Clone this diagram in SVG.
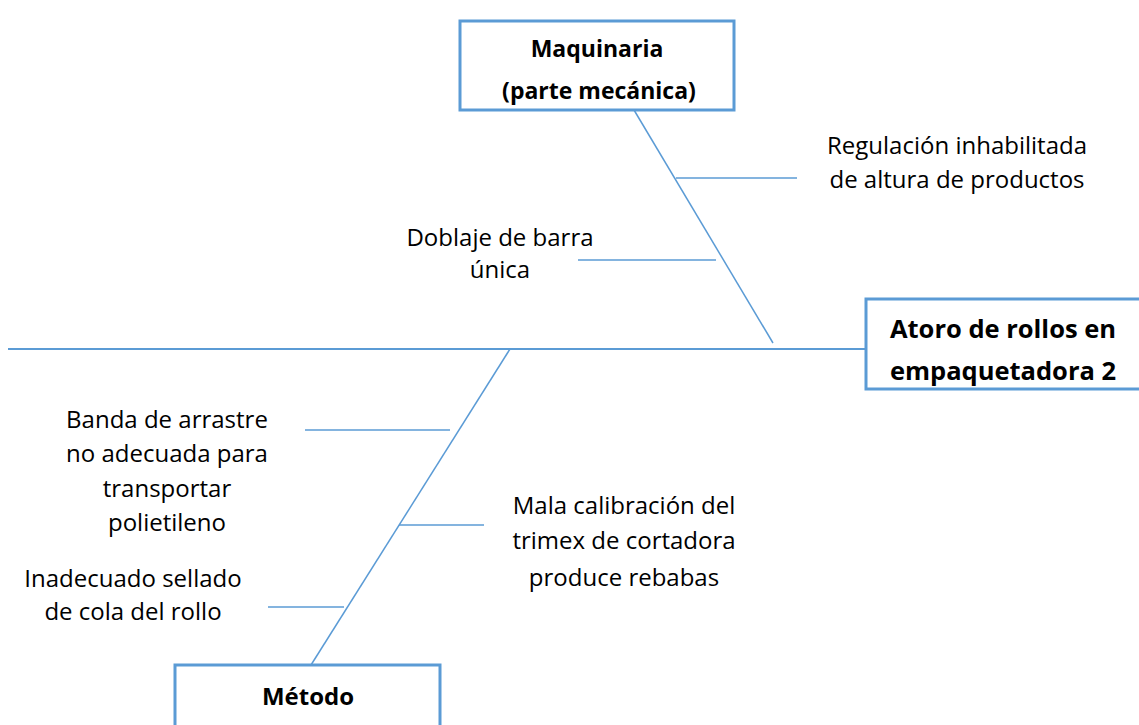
<svg xmlns="http://www.w3.org/2000/svg" width="1139" height="725" viewBox="0 0 1139 725">
<style>
.box{fill:#fff;stroke:#5b9bd5;stroke-width:3}
.ln{stroke:#5b9bd5;stroke-width:1.5;fill:none}
.sp{stroke:#5b9bd5;stroke-width:2;fill:none}
text{font-family:"Open Sans","Noto Sans",sans-serif;font-size:24px;fill:#000;text-anchor:middle}
.b{font-weight:bold}
.m{font-size:23px}
.e{font-size:25.5px}
</style>
<rect width="1139" height="725" fill="#fff"/>
<g id="connectors">
<line class="sp" x1="8" y1="349" x2="866" y2="349"/>
<line class="ln" x1="634" y1="110" x2="773" y2="343"/>
<line class="ln" x1="510" y1="349" x2="311" y2="665"/>
<line class="ln" x1="676" y1="178" x2="797" y2="178"/>
<line class="ln" x1="578" y1="260" x2="716" y2="260"/>
<line class="ln" x1="305" y1="430" x2="450" y2="430"/>
<line class="ln" x1="399" y1="525" x2="484" y2="525"/>
<line class="ln" x1="268" y1="607" x2="344" y2="607"/>
</g>
<g id="maquinaria">
<rect class="box" x="460" y="21" width="274" height="89"/>
<text class="b m" x="597" y="57">Maquinaria</text>
<text class="b m" x="599" y="99">(parte mecánica)</text>
</g>
<g id="efecto">
<rect class="box" x="866" y="299" width="276" height="90"/>
<text class="b e" x="1003" y="338">Atoro de rollos en</text>
<text class="b e" x="1003" y="380">empaquetadora 2</text>
</g>
<g id="metodo">
<rect class="box" x="175" y="665" width="265" height="70"/>
<text class="b" x="308" y="705">Método</text>
</g>
<g id="c1">
<text x="957" y="154">Regulación inhabilitada</text>
<text x="957" y="188">de altura de productos</text>
</g>
<g id="c2">
<text x="500" y="246">Doblaje de barra</text>
<text x="500" y="278">única</text>
</g>
<g id="c3">
<text x="167" y="428">Banda de arrastre</text>
<text x="167" y="462">no adecuada para</text>
<text x="167" y="497">transportar</text>
<text x="167" y="531">polietileno</text>
</g>
<g id="c4">
<text x="624" y="514">Mala calibración del</text>
<text x="624" y="549">trimex de cortadora</text>
<text x="624" y="586">produce rebabas</text>
</g>
<g id="c5">
<text x="133" y="587">Inadecuado sellado</text>
<text x="133" y="620">de cola del rollo</text>
</g>
</svg>
